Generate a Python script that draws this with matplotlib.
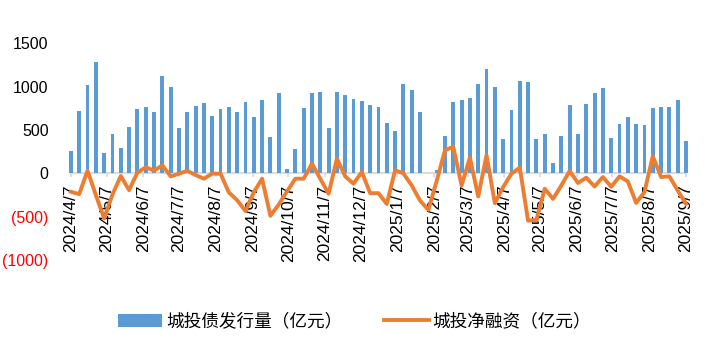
import pandas as pd
import matplotlib
matplotlib.use("Agg")
import matplotlib.pyplot as plt

plt.rcParams["font.family"] = ["Liberation Sans", "Noto Sans CJK SC", "DejaVu Sans"]

# 周度数据：2024/4/7 起，共 75 周
START = "2024-04-07"
N_WEEKS = 75

# 城投债发行量（亿元）
issuance = [
    260, 717, 1019, 1280, 240, 450, 287, 531, 740, 764,
    709, 1124, 996, 519, 705, 775, 814, 667, 740, 764,
    709, 826, 647, 845, 415, 930, 47, 279, 752, 930,
    942, 523, 942, 903, 860, 837, 787, 764, 578, 492,
    1035, 965, 705, 0, 43, 430, 826, 841, 864, 1035,
    1209, 992, 399, 725, 1062, 1050, 399, 457, 120, 434,
    783, 457, 798, 922, 981, 411, 574, 655, 574, 562,
    748, 760, 760, 841, 376,
]

# 城投净融资（亿元）
net_financing = [
    -213, -240, 31, -250, -520, -244, -31, -194, 8, 70,
    31, 93, -35, -5, 30, -20, -62, -4, -4, -220,
    -310, -435, -220, -62, -490, -360, -210, -62, -62, 112,
    -62, -236, 170, -35, -120, 16, -229, -229, -353, 35,
    0, -140, -314, -422, -90, 267, 306, -140, 182, -267,
    209, -345, -159, -4, 66, -546, -539, -178, -295, -140,
    27, -112, -50, -151, -43, -155, -35, -93, -341, -217,
    198, -43, -35, -198, -353,
]

y_ticks = [1500, 1000, 500, 0, -500, -1000]
y_labels = ["1500", "1000", "500", "0", "(500)", "(1000)"]

BLUE = "#5B9BD5"
ORANGE = "#ED7D31"
GRAY = "#D9D9D9"

dates = pd.date_range(START, periods=N_WEEKS, freq="7D")
# 横轴刻度：每月7日
tick_dates = pd.date_range("2024-04-01", "2025-09-01", freq="MS") + pd.Timedelta(days=6)
tick_labels = [f"{d.year}/{d.month}/{d.day}" for d in tick_dates]

fig = plt.figure(figsize=(7.09, 3.55), dpi=100)
ax = fig.add_axes([0.100, 0.2676, 0.8676, 0.6104])

bars = ax.bar(dates, issuance, width=3.3, color=BLUE, zorder=2,
              label="城投债发行量（亿元）", clip_on=False)
line, = ax.plot(dates, net_financing, color=ORANGE, lw=2.8, zorder=3,
                label="城投净融资（亿元）", clip_on=False)

ax.set_xlim(dates[0], dates[-1])
ax.set_ylim(-1000, 1500)

for s in ["top", "right", "left"]:
    ax.spines[s].set_visible(False)
ax.spines["bottom"].set_position(("data", 0))
ax.spines["bottom"].set_color(GRAY)
ax.spines["bottom"].set_linewidth(1.3)
ax.spines["bottom"].set_zorder(1)

ax.set_xticks(tick_dates)
ax.set_xticklabels(tick_labels, rotation=90, ha="center", va="top", fontsize=12.5)
ax.tick_params(axis="x", length=3, width=1.2, color=GRAY, pad=5)

ax.set_yticks(y_ticks)
ax.set_yticklabels(y_labels, fontsize=11.5)
ax.tick_params(axis="y", length=0, pad=16)
for lab, v in zip(ax.get_yticklabels(), y_ticks):
    lab.set_color("red" if v < 0 else "black")

ax.legend(handles=[bars, line], loc="center", bbox_to_anchor=(0.5, 0.093),
          bbox_transform=fig.transFigure, ncol=2, frameon=False,
          fontsize=12.7, handlelength=2.5, handleheight=0.8,
          handletextpad=0.2, columnspacing=2.4)

fig.savefig("out.png", dpi=100)
